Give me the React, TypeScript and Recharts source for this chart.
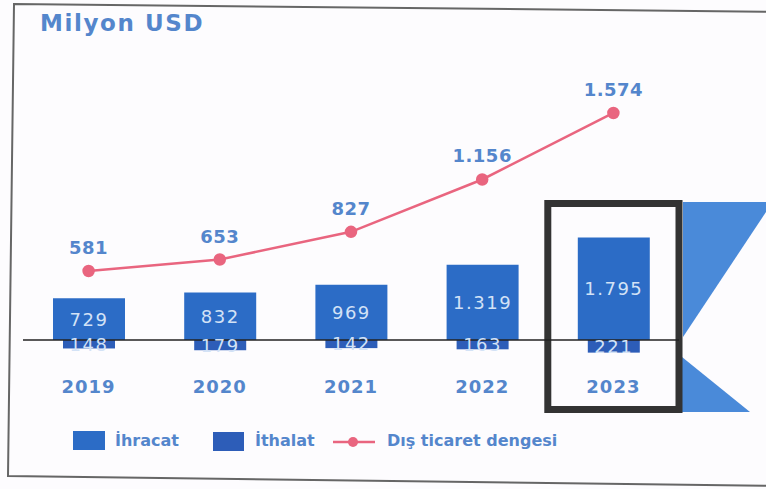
import { ComposedChart, Bar, Line, XAxis, YAxis, ReferenceLine, ReferenceArea, LabelList } from "recharts";

const years = ["2019", "2020", "2021", "2022", "2023"];
const ihracat = [729, 832, 969, 1319, 1795];
const ithalat = [148, 179, 142, 163, 221];
const denge = [581, 653, 827, 1156, 1574];

const data = years.map((y, i) => ({
  year: y,
  ihracat: ihracat[i],
  ithalat: -ithalat[i],
  denge: denge[i],
}));

const BLUE_TEXT = "#5486cc";
const BAR = "#2c6cc6";
const BAR2 = "#2d5db8";
const LINE = "#e9657f";
const FONT = "'DejaVu Sans', Verdana, sans-serif";

// binlik ayırıcı nokta
const fmt = (v: number) => String(Math.abs(v)).replace(/\B(?=(\d{3})+(?!\d))/g, ".");

// ithalat çubuğu biraz daha dar
const NarrowBar = (props: any) => {
  const { x, y, width, height, fill } = props;
  const h = Math.abs(height);
  const top = height < 0 ? y + height : y;
  return <rect x={x + 10} y={top} width={Math.max(width - 20, 0)} height={h} fill={fill} />;
};

const legendText = { position: "absolute" as const, top: 431, fontSize: 16, fontWeight: 700, color: BLUE_TEXT, lineHeight: "20px" };

export default function App() {
  return (
    <div style={{ position: "absolute", left: 0, top: 0, width: 766, height: 489, background: "#fdfcfe", fontFamily: FONT }}>
      <svg width={766} height={489} style={{ position: "absolute", left: 0, top: 0 }}>
        <polygon points="14,4 790,12 790,486 8,476" fill="none" stroke="#666" strokeWidth={2} />
        <polygon points="683,202 766,202 766,212 683,337" fill="#4a8ad9" />
        <polygon points="682,357 682,412 750,412" fill="#4a8ad9" />
      </svg>
      <div style={{ position: "absolute", left: 40, top: 10, fontSize: 23, fontWeight: 700, letterSpacing: 1.6, color: BLUE_TEXT }}>
        Milyon USD
      </div>
      <div style={{ position: "absolute", left: 0, top: 0 }}>
        <ComposedChart width={766} height={489} data={data} stackOffset="sign"
          margin={{ top: 60, right: 87, left: 23, bottom: 87 }}>
          <XAxis dataKey="year" axisLine={false} tickLine={false} height={30}
            tick={{ fill: BLUE_TEXT, fontSize: 18, fontWeight: 700, fontFamily: FONT, letterSpacing: 1 }} />
          <YAxis yAxisId="bar" hide domain={[-560, 4900]} />
          <YAxis yAxisId="line" hide domain={[-54, 1907]} />
          <ReferenceArea yAxisId="bar" x1="2023" x2="2023" y1={-1216} y2={2389}
            fill="none" stroke="#333" strokeWidth={7} ifOverflow="visible" />
          <Bar yAxisId="bar" dataKey="ihracat" stackId="a" fill={BAR} barSize={72} isAnimationActive={false}>
            <LabelList dataKey="ihracat" position="center" formatter={(v: any) => fmt(v)}
              fill="#d3e2f6" fontSize={18} fontFamily={FONT} letterSpacing={1.5} />
          </Bar>
          <Bar yAxisId="bar" dataKey="ithalat" stackId="a" fill={BAR2} barSize={72} shape={NarrowBar} isAnimationActive={false}>
            <LabelList dataKey="ithalat" position="center" formatter={(v: any) => fmt(v)}
              fill="#d3e2f6" fontSize={18} fontFamily={FONT} letterSpacing={1.5} />
          </Bar>
          <ReferenceLine yAxisId="bar" y={0} stroke="#222" strokeWidth={1.5} />
          <Line yAxisId="line" dataKey="denge" stroke={LINE} strokeWidth={2.5}
            dot={{ r: 5, fill: LINE, stroke: LINE }} isAnimationActive={false} type="linear">
            <LabelList dataKey="denge" position="top" offset={17} formatter={(v: any) => fmt(v)}
              fill={BLUE_TEXT} fontSize={18} fontWeight={700} fontFamily={FONT} letterSpacing={0.5} />
          </Line>
        </ComposedChart>
      </div>
      <span style={{ position: "absolute", left: 73, top: 431, width: 32, height: 19, background: BAR }} />
      <span style={{ ...legendText, left: 115 }}>İhracat</span>
      <span style={{ position: "absolute", left: 213, top: 432, width: 31, height: 19, background: BAR2 }} />
      <span style={{ ...legendText, left: 255 }}>İthalat</span>
      <svg width={42} height={12} style={{ position: "absolute", left: 333, top: 436 }}>
        <line x1={0} y1={6} x2={42} y2={6} stroke={LINE} strokeWidth={2.5} />
        <circle cx={20} cy={6} r={5} fill={LINE} />
      </svg>
      <span style={{ ...legendText, left: 387 }}>Dış ticaret dengesi</span>
    </div>
  );
}
